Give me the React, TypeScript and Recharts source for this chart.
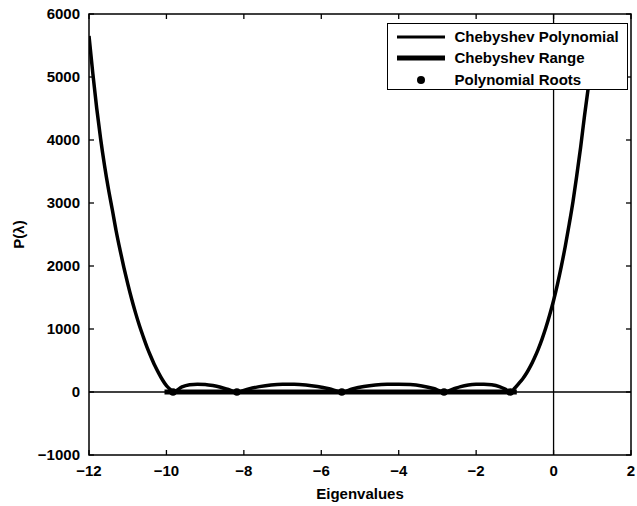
import React from 'react';
import { ComposedChart, Line, Scatter, XAxis, YAxis, ReferenceLine, ReferenceArea, Legend } from 'recharts';

// Polynomial curve
const polyX = [
  -12, -11.9, -11.8, -11.7, -11.6, -11.5, -11.4, -11.3, -11.2, -11.1, -11, -10.9, -10.8, -10.7, -10.6,
  -10.5, -10.4, -10.3, -10.2, -10.1, -10, -9.9, -9.83,
  -9.6, -9.4, -9.2, -9, -8.8, -8.6, -8.4, -8.18,
  -7.9, -7.6, -7.3, -7, -6.7, -6.4, -6.1, -5.8, -5.47,
  -5.2, -4.9, -4.6, -4.3, -4, -3.7, -3.4, -3.1, -2.83,
  -2.6, -2.4, -2.2, -2, -1.8, -1.6, -1.4, -1.25, -1.12,
  -1, -0.89, -0.8, -0.7, -0.6, -0.5, -0.4, -0.3, -0.2, -0.1, 0,
  0.1, 0.2, 0.3, 0.4, 0.5, 0.6, 0.7, 0.8, 0.9, 1,
];
const polyY = [
  5650, 5050, 4500, 4020, 3600, 3230, 2900, 2560, 2260, 1980, 1720, 1480, 1260, 1060, 880,
  710, 560, 420, 300, 190, 100, 40, 0,
  80, 115, 125, 120, 102, 75, 40, 0,
  45, 85, 112, 123, 123, 112, 88, 52, 0,
  48, 88, 112, 123, 125, 118, 95, 55, 0,
  45, 85, 110, 122, 125, 115, 85, 45, 0,
  62, 140, 207, 297, 406, 533, 674, 836, 1019, 1226, 1453,
  1710, 1994, 2306, 2650, 3017, 3440, 3890, 4390, 4850, 5350,
];
const rangeX = [-10.05, -0.95];
const rootX = [-9.83, -8.18, -5.47, -2.83, -1.12];

const xTicks = [-12, -10, -8, -6, -4, -2, 0, 2];
const yTicks = [-1000, 0, 1000, 2000, 3000, 4000, 5000, 6000];

const polyData = polyX.map((x, i) => ({ x, y: polyY[i] }));
const rangeData = rangeX.map((x) => ({ x, y: 0 }));
const rootData = rootX.map((x) => ({ x, y: 0 }));

const W = 637;
const H = 506;
const LEFT = 89;
const RIGHT = 631;
const TOP = 14;
const BOTTOM = 455;
const FONT = '"Liberation Sans", Arial, Helvetica, sans-serif';

const fmt = (v: number) => (v < 0 ? '\u2212' + Math.abs(v) : String(v));

const XTick = (props: any) => {
  const { x, payload } = props;
  return (
    <g>
      <line x1={x} x2={x} y1={BOTTOM} y2={BOTTOM - 5} stroke="#000" strokeWidth={1.3} />
      <line x1={x} x2={x} y1={TOP} y2={TOP + 5} stroke="#000" strokeWidth={1.3} />
      <text x={x} y={BOTTOM + 20.5} textAnchor="middle" fontFamily={FONT} fontWeight="bold" fontSize={15} fill="#000">
        {fmt(payload.value)}
      </text>
    </g>
  );
};

const YTick = (props: any) => {
  const { y, payload } = props;
  return (
    <g>
      <line x1={LEFT} x2={LEFT + 5} y1={y} y2={y} stroke="#000" strokeWidth={1.3} />
      <line x1={RIGHT} x2={RIGHT - 5} y1={y} y2={y} stroke="#000" strokeWidth={1.3} />
      <text x={LEFT - 9} y={y + 5} textAnchor="end" fontFamily={FONT} fontWeight="bold" fontSize={15} fill="#000">
        {fmt(payload.value)}
      </text>
    </g>
  );
};

const XTitle = () => (
  <text x={(LEFT + RIGHT) / 2} y={499} textAnchor="middle" fontFamily={FONT} fontWeight="bold" fontSize={15} fill="#000">
    Eigenvalues
  </text>
);

const YTitle = () => (
  <text
    x={24}
    y={(TOP + BOTTOM) / 2}
    transform={`rotate(-90, 24, ${(TOP + BOTTOM) / 2})`}
    textAnchor="middle"
    fontFamily={FONT}
    fontWeight="bold"
    fontSize={15}
    fill="#000"
  >
    P(λ)
  </text>
);

const legendRows = [
  { label: 'Chebyshev Polynomial', kind: 'thin' },
  { label: 'Chebyshev Range', kind: 'thick' },
  { label: 'Polynomial Roots', kind: 'dot' },
];

const LegendBox = () => (
  <div
    style={{
      width: 241,
      height: 67,
      boxSizing: 'border-box',
      border: '1.5px solid #000',
      background: '#fff',
      paddingTop: 2,
      fontFamily: FONT,
      fontWeight: 'bold',
      fontSize: 15,
      color: '#000',
    }}
  >
    {legendRows.map((r) => (
      <div key={r.label} style={{ display: 'flex', alignItems: 'center', height: 21.5 }}>
        <svg width={48} height={20} style={{ marginLeft: 8.5, flex: 'none' }}>
          {r.kind === 'dot' ? (
            <circle cx={24} cy={10} r={4} fill="#000" />
          ) : (
            <line x1={0} x2={48} y1={10} y2={10} stroke="#000" strokeWidth={r.kind === 'thin' ? 3 : 5} />
          )}
        </svg>
        <span style={{ marginLeft: 10, whiteSpace: 'nowrap', lineHeight: '20px' }}>{r.label}</span>
      </div>
    ))}
  </div>
);

const RootDot = (props: any) => <circle cx={props.cx} cy={props.cy} r={3.8} fill="#000" />;

export default function App() {
  return (
    <div style={{ position: 'absolute', left: 0, top: 0, width: W, height: H, background: '#fff' }}>
      <ComposedChart width={W} height={H} margin={{ top: TOP, right: W - RIGHT, left: 0, bottom: 0 }}>
        <XAxis
          type="number"
          dataKey="x"
          domain={[-12, 2]}
          ticks={xTicks}
          interval={0}
          height={H - BOTTOM}
          axisLine={false}
          tickLine={false}
          tick={<XTick />}
          label={XTitle}
          allowDataOverflow
        />
        <YAxis
          type="number"
          dataKey="y"
          domain={[-1000, 6000]}
          ticks={yTicks}
          interval={0}
          width={LEFT}
          axisLine={false}
          tickLine={false}
          tick={<YTick />}
          label={YTitle}
          allowDataOverflow
        />
        <ReferenceLine x={0} stroke="#000" strokeWidth={1.3} />
        <ReferenceLine y={0} stroke="#000" strokeWidth={1.3} />
        <Line
          data={polyData}
          dataKey="y"
          type="monotone"
          stroke="#000"
          strokeWidth={3.5}
          dot={false}
          activeDot={false}
          isAnimationActive={false}
          name="Chebyshev Polynomial"
        />
        <Line
          data={rangeData}
          dataKey="y"
          type="linear"
          stroke="#000"
          strokeWidth={5}
          dot={false}
          activeDot={false}
          isAnimationActive={false}
          name="Chebyshev Range"
        />
        <Scatter data={rootData} dataKey="y" fill="#000" shape={RootDot} isAnimationActive={false} name="Polynomial Roots" />
        <ReferenceArea x1={-12} x2={2} y1={-1000} y2={6000} fill="none" fillOpacity={0} stroke="#000" strokeWidth={1.5} ifOverflow="visible" />
        <Legend
          layout="horizontal"
          verticalAlign="middle"
          align="center"
          content={LegendBox}
          wrapperStyle={{ position: 'absolute', left: 387, top: 23, width: 241, height: 67 }}
        />
      </ComposedChart>
    </div>
  );
}
